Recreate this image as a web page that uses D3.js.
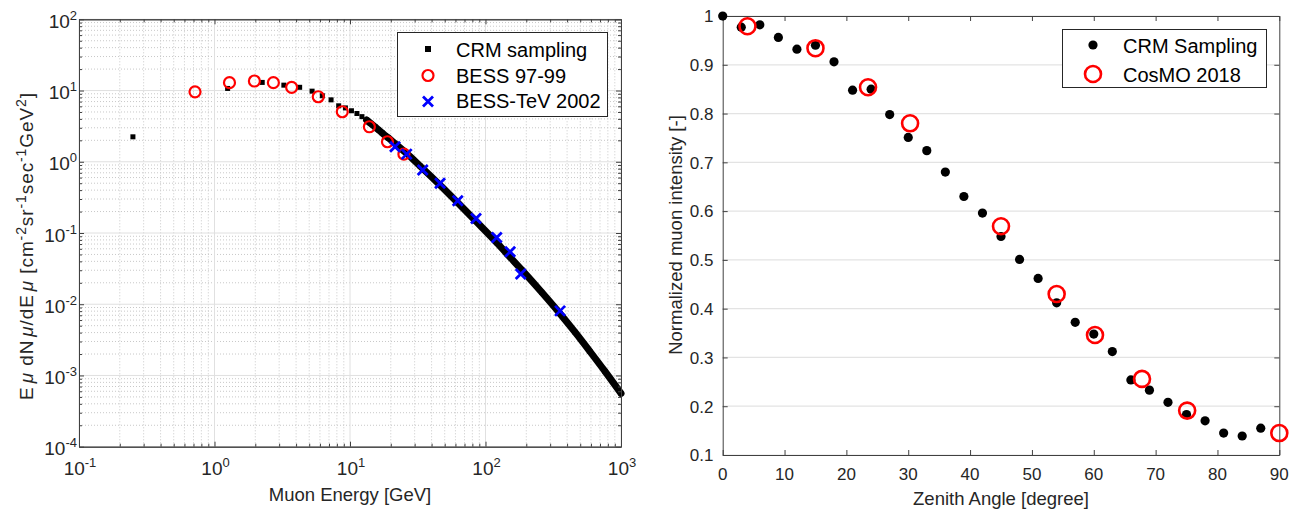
<!DOCTYPE html>
<html>
<head>
<meta charset="utf-8">
<script src="https://cdn.jsdelivr.net/npm/d3@7"></script>
<style>
body { margin: 0; background: #fff; }
svg { display: block; font-family: "Liberation Sans", Arial, Helvetica, sans-serif; }
</style>
</head>
<body>
<svg id="fig" width="1303" height="512"></svg>
<script>
//==========================================================================
// Data.

// Left panel: muon energy spectrum (E [GeV], E dN/dE)
var crmEnergy = [0.25, 1.25, 2.25, 3.25, 4.25, 5.25, 6.25, 7.25, 8.25, 9.25, 10.25, 11.25,
    12.25, 13.25, 14.25, 15.25, 16.25, 17.25, 18.25, 19.25, 20.25, 22.1, 26.2, 32.9, 46.1,
    62.7, 85.1, 122, 144, 186, 260, 355, 458, 590, 762, 1000];
var crmFlux = [2.24, 10.7, 13.0, 11.9, 11.1, 9.8, 8.45, 7.4, 6.1, 5.7, 5.2, 4.76,
    4.3, 3.85, 3.45, 3.1, 2.8, 2.55, 2.32, 2.15, 1.98, 1.72, 1.31, 0.871, 0.471,
    0.263, 0.146, 0.0721, 0.0510, 0.0301, 0.0147, 0.00736, 0.00405, 0.00217, 0.00114, 0.000561];

var bessEnergy = [0.718, 1.29, 1.97, 2.72, 3.71, 5.83, 8.77, 13.9, 18.9, 25.0];
var bessFlux = [9.6, 12.9, 13.6, 12.9, 11.1, 8.18, 5.04, 3.1, 1.91, 1.28];

var tevEnergy = [21.5, 26.2, 34.4, 46.2, 62.4, 85.1, 121, 152, 182, 355];
var tevFlux = [1.62, 1.28, 0.764, 0.498, 0.283, 0.160, 0.0867, 0.0545, 0.0265, 0.00807];

var leftLegend = ["CRM sampling", "BESS 97-99", "BESS-TeV 2002"];

// Right panel: normalized intensity vs zenith angle
var crmAngle = [0, 3, 6, 9, 12, 15, 18, 21, 24, 27, 30, 33, 36, 39, 42, 45, 48, 51, 54, 57,
    60, 63, 66, 69, 72, 75, 78, 81, 84, 87];
var crmIntensity = [1.0, 0.977, 0.982, 0.956, 0.932, 0.940, 0.906, 0.848, 0.850, 0.798,
    0.751, 0.724, 0.680, 0.630, 0.596, 0.548, 0.501, 0.462, 0.412, 0.372,
    0.348, 0.312, 0.254, 0.233, 0.208, 0.183, 0.170, 0.145, 0.139, 0.155];

var cosmoAngle = [4, 15, 23.5, 30.3, 45, 54, 60.2, 67.8, 75.1, 90];
var cosmoIntensity = [0.979, 0.934, 0.854, 0.780, 0.569, 0.430, 0.346, 0.256, 0.191, 0.145];

var rightLegend = ["CRM Sampling", "CosMO 2018"];
var angleTicks = [0, 10, 20, 30, 40, 50, 60, 70, 80, 90];
var intensityTicks = [0.1, 0.2, 0.3, 0.4, 0.5, 0.6, 0.7, 0.8, 0.9, 1];

//==========================================================================
var svg = d3.select("#fig");
var axisColor = "#404040";
var textColor = "#262626";
var red = "#ff0000", blue = "#0000ff";

function isMajor(v) {
    var l = Math.log10(v);
    return Math.abs(l - Math.round(l)) < 1e-6;
}

// inward ticks on all four sides
function boxAxes(g, x, y, xVals, yVals, size) {
    var xr = x.range(), yr = y.range();
    g.append("g").attr("transform", "translate(0," + yr[0] + ")")
        .call(d3.axisBottom(x).tickValues(xVals).tickSizeInner(-size).tickSizeOuter(0).tickFormat(""));
    g.append("g").attr("transform", "translate(0," + yr[1] + ")")
        .call(d3.axisTop(x).tickValues(xVals).tickSizeInner(-size).tickSizeOuter(0).tickFormat(""));
    g.append("g").attr("transform", "translate(" + xr[0] + ",0)")
        .call(d3.axisLeft(y).tickValues(yVals).tickSizeInner(-size).tickSizeOuter(0).tickFormat(""));
    g.append("g").attr("transform", "translate(" + xr[1] + ",0)")
        .call(d3.axisRight(y).tickValues(yVals).tickSizeInner(-size).tickSizeOuter(0).tickFormat(""));
}

function pow10Label(sel, exp) {
    sel.append("tspan").text("10");
    sel.append("tspan").attr("font-size", 13).attr("dy", -8).text(exp);
}

//==========================================================================
// Left panel
var xE = d3.scaleLog().domain([0.1, 1000]).range([79, 621]);
var yF = d3.scaleLog().domain([1e-4, 100]).range([446.7, 19.3]);
var left = svg.append("g");

var xT = xE.ticks(), yT = yF.ticks();
var xMajor = xT.filter(isMajor), xMinor = xT.filter(function(d) { return !isMajor(d); });
var yMajor = yT.filter(isMajor), yMinor = yT.filter(function(d) { return !isMajor(d); });

// grid
left.selectAll(".xmin").data(xMinor).enter().append("line")
    .attr("x1", function(d) { return xE(d); }).attr("x2", function(d) { return xE(d); })
    .attr("y1", 19.3).attr("y2", 446.7)
    .attr("stroke", "#c8c8c8").attr("stroke-dasharray", "1,2");
left.selectAll(".ymin").data(yMinor).enter().append("line")
    .attr("y1", function(d) { return yF(d); }).attr("y2", function(d) { return yF(d); })
    .attr("x1", 79).attr("x2", 621)
    .attr("stroke", "#c8c8c8").attr("stroke-dasharray", "1,2");
left.selectAll(".xmaj").data(xMajor).enter().append("line")
    .attr("x1", function(d) { return xE(d); }).attr("x2", function(d) { return xE(d); })
    .attr("y1", 19.3).attr("y2", 446.7).attr("stroke", "#e0e0e0");
left.selectAll(".ymaj").data(yMajor).enter().append("line")
    .attr("y1", function(d) { return yF(d); }).attr("y2", function(d) { return yF(d); })
    .attr("x1", 79).attr("x2", 621).attr("stroke", "#e0e0e0");

// CRM sampling: discrete squares, merging into a thick band at high energy
var crmPts = crmEnergy.map(function(e, i) { return [e, crmFlux[i]]; });
left.append("path")
    .datum(crmPts.filter(function(d) { return d[0] >= 13; }))
    .attr("d", d3.line().x(function(d) { return xE(d[0]); }).y(function(d) { return yF(d[1]); }).curve(d3.curveMonotoneX))
    .attr("fill", "none").attr("stroke", "#000").attr("stroke-width", 7)
    .attr("stroke-linecap", "round");
left.selectAll(".crm").data(crmPts).enter().append("rect")
    .attr("x", function(d) { return xE(d[0]) - 2.5; })
    .attr("y", function(d) { return yF(d[1]) - 2.5; })
    .attr("width", 5).attr("height", 5).attr("fill", "#000");

left.selectAll(".bess").data(bessEnergy).enter().append("circle")
    .attr("cx", function(d) { return xE(d); })
    .attr("cy", function(d, i) { return yF(bessFlux[i]); })
    .attr("r", 5.5).attr("fill", "none").attr("stroke", red).attr("stroke-width", 2.2);

var cross = "M-5,-5L5,5M-5,5L5,-5";
left.selectAll(".tev").data(tevEnergy).enter().append("path")
    .attr("transform", function(d, i) { return "translate(" + xE(d) + "," + yF(tevFlux[i]) + ")"; })
    .attr("d", cross).attr("stroke", blue).attr("stroke-width", 2.8);

// axes
var laxes = left.append("g").attr("color", axisColor);
boxAxes(laxes, xE, yF, xMajor, yMajor, 5);
boxAxes(laxes, xE, yF, xMinor, yMinor, 3);

left.selectAll(".xlab").data(xMajor).enter().append("text")
    .attr("x", function(d) { return xE(d) + 1; }).attr("y", 475)
    .attr("text-anchor", "middle").attr("font-size", 19).attr("fill", textColor)
    .each(function(d) { pow10Label(d3.select(this), String(Math.round(Math.log10(d)))); });
left.selectAll(".ylab").data(yMajor).enter().append("text")
    .attr("x", 77).attr("y", function(d) { return yF(d) + 8.5; })
    .attr("text-anchor", "end").attr("font-size", 19).attr("fill", textColor)
    .each(function(d) { pow10Label(d3.select(this), String(Math.round(Math.log10(d)))); });

left.append("text").attr("x", 350).attr("y", 501).attr("text-anchor", "middle")
    .attr("font-size", 18.5).attr("fill", textColor).text("Muon Energy [GeV]");

var yl = left.append("text").attr("transform", "translate(33,246) rotate(-90)")
    .attr("text-anchor", "middle").attr("font-size", 19).attr("fill", textColor)
    .style("letter-spacing", "0.9px");
var ylParts = [["E", 0], ["μ", 2], [" dN", 0], ["μ", 2], ["/dE", 0], ["μ", 2], [" [cm", 0],
    ["-2", 1], ["sr", 0], ["-1", 1], ["sec", 0], ["-1", 1], ["GeV", 0], ["2", 1], ["]", 0]];
var prevSup = 0;
ylParts.forEach(function(p) {
    var sup = p[1] === 1 ? 1 : 0;
    var t = yl.append("tspan").text(p[0]);
    if (sup !== prevSup) t.attr("dy", sup ? -7 : 7);
    if (sup) t.attr("font-size", 14);
    if (p[1] === 2) t.attr("font-style", "italic").attr("dx", 3);
    prevSup = sup;
});

// legend
var lg = left.append("g");
lg.append("rect").attr("x", 397.5).attr("y", 32.5).attr("width", 210).attr("height", 84)
    .attr("fill", "#fff").attr("stroke", textColor).attr("stroke-width", 1);
lg.selectAll("text").data(leftLegend).enter().append("text")
    .attr("x", 456).attr("y", function(d, i) { return 57 + i * 25.7; })
    .attr("font-size", 20).attr("fill", "#000").text(function(d) { return d; });
lg.append("rect").attr("x", 425).attr("y", 46).attr("width", 6).attr("height", 6).attr("fill", "#000");
lg.append("circle").attr("cx", 428).attr("cy", 75.5).attr("r", 5.5)
    .attr("fill", "none").attr("stroke", red).attr("stroke-width", 2.2);
lg.append("path").attr("transform", "translate(428,101.5)").attr("d", cross)
    .attr("stroke", blue).attr("stroke-width", 2.8);

//==========================================================================
// Right panel
var xA = d3.scaleLinear().domain([0, 90]).range([722.7, 1279.3]);
var yI = d3.scaleLinear().domain([0.1, 1]).range([455, 16]);
var right = svg.append("g");

right.selectAll(".grid").data(intensityTicks).enter().append("line")
    .attr("x1", 722.7).attr("x2", 1279.3)
    .attr("y1", function(d) { return yI(d); }).attr("y2", function(d) { return yI(d); })
    .attr("stroke", "#e3e3e3").attr("stroke-width", 1.2);

var raxes = right.append("g").attr("color", axisColor);
boxAxes(raxes, xA, yI, angleTicks, intensityTicks, 5);

right.selectAll(".crm").data(crmAngle).enter().append("circle")
    .attr("cx", function(d) { return xA(d); })
    .attr("cy", function(d, i) { return yI(crmIntensity[i]); })
    .attr("r", 4.6).attr("fill", "#000");
right.selectAll(".cosmo").data(cosmoAngle).enter().append("circle")
    .attr("cx", function(d) { return xA(d); })
    .attr("cy", function(d, i) { return yI(cosmoIntensity[i]); })
    .attr("r", 8).attr("fill", "none").attr("stroke", red).attr("stroke-width", 2.6);

right.selectAll(".xlab").data(angleTicks).enter().append("text")
    .attr("x", function(d) { return xA(d); }).attr("y", 480)
    .attr("text-anchor", "middle").attr("font-size", 17).attr("fill", textColor)
    .text(function(d) { return d; });
right.selectAll(".ylab").data(intensityTicks).enter().append("text")
    .attr("x", 713.5).attr("y", function(d) { return yI(d) + 6.3; })
    .attr("text-anchor", "end").attr("font-size", 17).attr("fill", textColor)
    .text(function(d) { return d3.format("~g")(d); });

right.append("text").attr("x", 1001).attr("y", 505).attr("text-anchor", "middle")
    .attr("font-size", 18.5).attr("fill", textColor).text("Zenith Angle [degree]");
right.append("text").attr("transform", "translate(682,235) rotate(-90)")
    .attr("text-anchor", "middle").attr("font-size", 18.5).attr("fill", textColor)
    .text("Normalized muon intensity [-]");

var rg = right.append("g");
rg.append("rect").attr("x", 1062.5).attr("y", 29.5).attr("width", 204).attr("height", 58)
    .attr("fill", "#fff").attr("stroke", textColor).attr("stroke-width", 1);
rg.selectAll("text").data(rightLegend).enter().append("text")
    .attr("x", 1123).attr("y", function(d, i) { return 53 + i * 28.5; })
    .attr("font-size", 20).attr("fill", "#000").text(function(d) { return d; });
rg.append("circle").attr("cx", 1093).attr("cy", 45).attr("r", 4.6).attr("fill", "#000");
rg.append("circle").attr("cx", 1093).attr("cy", 74).attr("r", 8)
    .attr("fill", "none").attr("stroke", red).attr("stroke-width", 2.6);
</script>
</body>
</html>
